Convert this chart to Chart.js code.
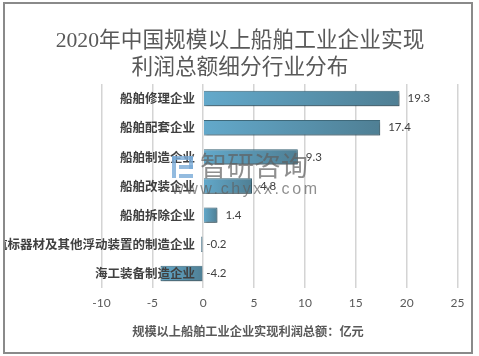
<!DOCTYPE html>
<html>
<head>
<meta charset="utf-8">
<style>
  html, body { margin: 0; padding: 0; background: #fff; }
  #frame { position: absolute; left: 3px; top: 2px; width: 466px; height: 348px; border: 2px solid #8a8a8a; z-index: 2; pointer-events: none; }
  #wrap { position: absolute; left: 4px; top: 0; width: 472px; height: 356px; }
</style>
<script src="https://cdn.jsdelivr.net/npm/chart.js@4"></script>
</head>
<body>
<div id="wrap"><canvas id="profitChart" width="472" height="356"></canvas></div>
<div id="frame"></div>
<script>
const categories = ['船舶修理企业', '船舶配套企业', '船舶制造企业', '船舶改装企业', '船舶拆除企业', '航标器材及其他浮动装置的制造企业', '海工装备制造企业'];
const profit = [19.3, 17.4, 9.3, 4.8, 1.4, -0.2, -4.2];
const xTickValues = [-10, -5, 0, 5, 10, 15, 20, 25];
const titleLines = ['2020年中国规模以上船舶工业企业实现', '利润总额细分行业分布'];
const axisCaption = '规模以上船舶工业企业实现利润总额：亿元';

const cjk = '"Noto Sans CJK SC"';

function barGradient(c) {
    const chart = c.chart;
    const x = chart.scales.x;
    if (!x || c.raw === undefined) return '#5b9ebc';
    const a = x.getPixelForValue(Math.min(c.raw, 0));
    const b = x.getPixelForValue(Math.max(c.raw, 0));
    if (!Number.isFinite(a) || !Number.isFinite(b)) return '#5b9ebc';
    const g = chart.ctx.createLinearGradient(a, 0, b, 0);
    g.addColorStop(0, '#63a9cb');
    g.addColorStop(1, '#4f7f94');
    return g;
}

// shadow under the bars
const barShadow = {
    id: 'barShadow',
    beforeDatasetDraw(chart) {
        const ctx = chart.ctx;
        ctx.save();
        ctx.shadowColor = 'rgba(0,0,0,0.45)';
        ctx.shadowBlur = 3;
        ctx.shadowOffsetX = 1;
        ctx.shadowOffsetY = 2;
    },
    afterDatasetDraw(chart) {
        chart.ctx.restore();
    }
};

// title, value labels, axis caption, watermark
const extras = {
    id: 'extras',
    afterDraw(chart) {
        const ctx = chart.ctx;
        const x = chart.scales.x;
        const bars = chart.getDatasetMeta(0).data;
        ctx.save();
        ctx.textBaseline = 'middle';

        ctx.font = '21.7px "Liberation Serif", ' + cjk;
        ctx.fillStyle = '#595959';
        ctx.textAlign = 'center';
        titleLines.forEach((t, i) => ctx.fillText(t, 236, 41 + i * 27));

        ctx.font = '11.5px Lato';
        ctx.fillStyle = '#404040';
        ctx.textAlign = 'left';
        profit.forEach((v, i) => {
            ctx.fillText(String(v), x.getPixelForValue(Math.max(v, 0)) + (v < 0 ? 3 : 8), bars[i].y);
        });

        ctx.font = 'bold 12.2px ' + cjk;
        ctx.fillStyle = '#595959';
        ctx.textAlign = 'center';
        ctx.fillText(axisCaption, 244, 331);

        // 智研咨询 watermark
        ctx.fillStyle = 'rgba(120,170,215,0.8)';
        ctx.fillRect(168, 156, 21, 4);
        ctx.fillRect(168, 156, 4, 22);
        ctx.fillRect(185, 156, 4, 13);
        ctx.fillRect(175, 165, 14, 4);
        ctx.fillRect(175, 174, 14, 4);
        ctx.fillStyle = 'rgba(95,95,95,0.7)';
        ctx.textAlign = 'left';
        ctx.font = '27px ' + cjk;
        ctx.fillText('智研咨询', 196, 166);
        ctx.font = '16px "Liberation Sans"';
        ctx.letterSpacing = '2.6px';
        ctx.fillText('www.chyxx.com', 168, 190);
        ctx.restore();
    }
};

new Chart(document.getElementById('profitChart'), {
    type: 'bar',
    data: {
        labels: categories,
        datasets: [{
            data: profit,
            backgroundColor: barGradient,
            borderColor: '#3f6a7c',
            borderWidth: 1,
            categoryPercentage: 1,
            barPercentage: 0.53
        }]
    },
    plugins: [barShadow, extras],
    options: {
        indexAxis: 'y',
        responsive: false,
        animation: false,
        layout: { padding: { left: 97.5, right: 18.5, top: 84, bottom: 0 } },
        plugins: {
            legend: { display: false },
            tooltip: { enabled: false }
        },
        scales: {
            x: {
                min: xTickValues[0],
                max: xTickValues[xTickValues.length - 1],
                afterBuildTicks: s => { s.ticks = xTickValues.map(v => ({ value: v })); },
                afterFit: s => { s.height = 68; },
                grid: { color: '#d4d4d4', lineWidth: 1.5, drawTicks: false },
                border: { display: false },
                ticks: { color: '#595959', font: { family: 'Lato', size: 12 }, padding: 8, maxRotation: 0 }
            },
            y: {
                // labels sit just left of the zero line
                position: { x: -0.8 },
                grid: { display: false },
                border: { display: false },
                ticks: { z: 1, color: '#404040', font: { family: cjk, size: 12.5, weight: 'bold' }, autoSkip: false }
            }
        }
    }
});
</script>
</body>
</html>
